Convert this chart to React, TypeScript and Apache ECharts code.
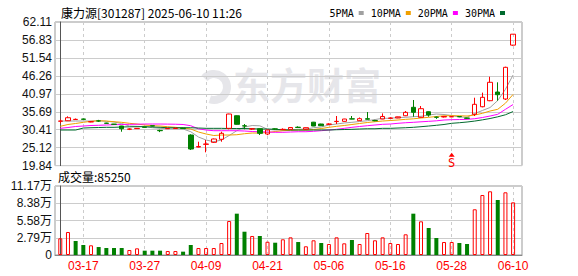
import { useEffect, useRef } from 'react';
import * as echarts from 'echarts';

const TITLE = '康力源[301287] 2025-06-10 11:26';

const DATES = [
  '03-12', '03-13', '03-14', '03-17', '03-18', '03-19', '03-20', '03-21', '03-24', '03-25',
  '03-26', '03-27', '03-28', '03-31', '04-01', '04-02', '04-03', '04-07', '04-08', '04-09',
  '04-10', '04-11', '04-14', '04-15', '04-16', '04-17', '04-18', '04-21', '04-22', '04-23',
  '04-24', '04-25', '04-28', '04-29', '04-30', '05-06', '05-07', '05-08', '05-09', '05-12',
  '05-13', '05-14', '05-15', '05-16', '05-19', '05-20', '05-21', '05-22', '05-23', '05-26',
  '05-27', '05-28', '05-29', '05-30', '06-03', '06-04', '06-05', '06-06', '06-09', '06-10',
];

const TICK_DATES = ['03-17', '03-27', '04-09', '04-21', '05-06', '05-16', '05-28', '06-10'];

const OPEN = [
  32.90, 33.04, 33.40, 33.56, 32.70, 33.00, 32.35, 32.05, 31.49, 30.55,
  30.72, 31.18, 31.55, 30.20, 30.70, 30.75, 30.85, 28.84, 25.30, 26.10,
  26.69, 27.58, 30.81, 34.52, 31.55, 30.60, 30.70, 29.14, 30.65, 30.45,
  30.52, 31.15, 30.55, 32.62, 32.08, 32.00, 32.80, 32.87, 33.60, 33.06,
  33.64, 33.10, 33.55, 33.76, 33.85, 34.52, 37.00, 34.05, 35.70, 34.10,
  34.15, 34.20, 34.28, 33.85, 34.94, 37.17, 38.94, 41.50, 39.44, 55.30,
];
const CLOSE = [
  32.96, 33.93, 33.46, 33.46, 32.76, 32.96, 32.28, 31.99, 30.70, 30.61,
  30.80, 31.11, 31.49, 30.11, 30.80, 30.85, 30.75, 24.72, 25.45, 26.19,
  27.67, 29.34, 35.02, 31.99, 31.49, 30.69, 29.34, 30.32, 30.61, 30.52,
  31.05, 31.05, 31.00, 31.49, 31.58, 32.08, 32.87, 33.55, 33.55, 33.65,
  33.50, 33.05, 34.30, 33.85, 34.20, 35.52, 35.52, 36.59, 34.73, 34.05,
  34.30, 34.25, 34.23, 33.76, 37.88, 39.94, 44.36, 40.71, 48.77, 58.52,
];
const LOW = [
  32.29, 32.96, 33.26, 33.40, 32.60, 32.70, 32.15, 31.90, 29.81, 30.30,
  30.65, 31.00, 31.40, 29.70, 30.60, 30.65, 30.65, 24.43, 25.20, 23.75,
  26.50, 26.87, 30.52, 31.90, 30.52, 30.31, 28.84, 28.80, 30.40, 30.30,
  30.45, 30.90, 30.30, 31.45, 31.50, 31.80, 32.08, 32.80, 33.50, 33.00,
  33.40, 32.90, 33.50, 33.70, 33.80, 34.40, 34.23, 34.00, 34.23, 33.60,
  34.00, 34.10, 34.10, 33.60, 34.44, 37.00, 38.80, 38.94, 39.15, 55.10,
];
const HIGH = [
  33.46, 34.35, 33.70, 33.64, 32.90, 33.30, 32.45, 32.10, 31.55, 30.80,
  30.90, 31.25, 31.60, 30.40, 30.90, 30.95, 30.95, 29.05, 26.87, 27.37,
  27.80, 29.81, 35.10, 34.60, 32.08, 30.80, 30.75, 30.40, 30.80, 30.80,
  31.11, 31.40, 31.05, 32.70, 32.15, 32.30, 34.44, 33.60, 34.44, 34.00,
  35.61, 33.30, 35.20, 34.05, 34.25, 35.91, 39.15, 37.38, 35.80, 34.30,
  34.35, 34.40, 34.35, 33.90, 39.82, 41.32, 46.00, 44.36, 48.95, 58.52,
];

const MA5 = [
  32.96, 32.96, 32.96, 32.96, 32.96, 33.05, 32.87, 32.67, 32.23, 31.49,
  31.40, 31.29, 30.99, 30.81, 30.69, 30.69, 30.61, 29.81, 28.25, 27.37,
  26.87, 27.37, 28.70, 30.11, 31.20, 31.64, 31.55, 30.52, 30.31, 30.31,
  30.40, 30.52, 30.61, 30.99, 31.20, 31.79, 32.08, 32.38, 32.58, 32.82,
  33.05, 33.40, 33.76, 33.76, 34.00, 34.05, 34.23, 34.35, 34.73, 35.02,
  34.88, 34.58, 34.14, 34.05, 35.17, 36.06, 36.94, 39.00, 42.30, 46.51,
];
const MA10 = [
  31.40, 31.94, 32.23, 32.58, 32.87, 33.05, 32.96, 32.76, 32.58, 32.29,
  32.08, 31.79, 31.58, 31.49, 31.29, 31.11, 30.90, 30.61, 29.73, 29.14,
  28.70, 28.84, 28.84, 28.93, 29.22, 29.43, 29.43, 29.58, 29.87, 30.11,
  30.22, 30.31, 30.31, 30.46, 30.75, 31.11, 31.40, 31.64, 31.94, 32.23,
  32.52, 32.76, 32.96, 33.11, 33.26, 33.46, 33.61, 33.85, 34.05, 34.29,
  34.50, 34.53, 34.50, 34.44, 34.73, 35.23, 35.91, 36.41, 38.20, 40.80,
];
const MA20 = [
  30.81, 31.05, 31.35, 31.49, 31.64, 31.70, 31.79, 31.88, 31.94, 31.99,
  32.02, 32.08, 32.08, 32.08, 32.05, 32.02, 31.94, 31.58, 30.66, 30.31,
  30.11, 30.11, 30.11, 30.11, 30.02, 29.87, 29.81, 29.73, 29.64, 29.64,
  29.73, 29.81, 29.81, 29.93, 30.11, 30.31, 30.52, 30.81, 31.11, 31.35,
  31.58, 31.79, 31.99, 32.08, 32.29, 32.46, 32.58, 32.73, 32.87, 33.02,
  33.26, 33.35, 33.40, 33.46, 33.64, 33.99, 34.44, 34.94, 36.40, 37.82,
];
const MA30 = [
  30.31, 30.31, 30.31, 30.90, 30.99, 31.05, 31.11, 31.11, 31.20, 31.26,
  31.29, 31.29, 31.20, 31.11, 30.99, 30.99, 30.99, 30.99, 30.90, 30.81,
  30.81, 30.81, 30.75, 30.75, 30.75, 30.69, 30.61, 30.61, 30.52, 30.40,
  30.31, 30.31, 30.31, 30.31, 30.31, 30.31, 30.40, 30.46, 30.52, 30.61,
  30.69, 30.69, 30.81, 30.81, 30.90, 30.99, 31.11, 31.29, 31.49, 31.70,
  31.94, 32.29, 32.46, 32.67, 32.95, 33.30, 33.70, 34.20, 34.80, 35.75,
];

const VOLUMES = [
  27000, 37200, 22700, 16200, 15700, 12900, 11300, 11300, 11300, 8100,
  10800, 7000, 7000, 7000, 6500, 6500, 5400, 16200, 11300, 11300,
  11300, 19400, 55000, 66900, 37700, 30800, 30800, 21500, 19900, 25400,
  28600, 21000, 14100, 23800, 19400, 17800, 28600, 18900, 24300, 17800,
  35600, 23800, 28600, 19400, 17800, 33500, 66900, 54500, 43700, 27500,
  21000, 21000, 19400, 17800, 74000, 97100, 103100, 89000, 101500, 85250,
];
// 1 = rising (hollow red), 0 = falling (solid green)
const VOL_UP = [
  1, 1, 0, 0, 1, 0, 0, 0, 0, 1,
  1, 0, 0, 0, 1, 1, 0, 0, 1, 1,
  1, 1, 1, 0, 0, 1, 0, 1, 0, 1,
  1, 0, 1, 1, 0, 1, 1, 1, 0, 1,
  1, 1, 1, 1, 1, 1, 0, 1, 0, 0,
  1, 1, 0, 0, 1, 1, 1, 0, 1, 1,
];

const PRICE_TICKS = ['19.84', '25.12', '30.41', '35.69', '40.97', '46.26', '51.54', '56.83', '62.11'];
const VOL_TICKS = [0, 27925, 55850, 83775, 111700];
const VOL_TICK_LABELS = ['0', '2.79万', '5.58万', '8.38万', '11.17万'];

const SIGNAL_DATE = '05-28';
const SIGNAL_PRICE = 23.0;

const MA_NAMES = ['5PMA', '10PMA', '20PMA', '30PMA'];
const MA_COLORS = ['#a0a0a0', '#f0a000', '#ff00ff', '#006a2e'];

const UP = '#ff0000';
const DOWN = '#008000';
const FONT = "'Liberation Sans', 'Noto Sans CJK SC', sans-serif";
const CJK = "'Noto Sans CJK SC', 'Liberation Sans', sans-serif";

export default function App() {
  const ref = useRef<HTMLDivElement>(null);

  useEffect(() => {
    if (!ref.current) return;
    const chart = echarts.init(ref.current, undefined, { renderer: 'svg' });
    const tickIdx = TICK_DATES.map((d) => DATES.indexOf(d));
    const priceVals = PRICE_TICKS.map(Number);
    const maData = [MA5, MA10, MA20, MA30];

    const xCommon = {
      type: 'value' as const,
      min: -0.69,
      max: 60.16,
      axisLine: { show: false },
      axisTick: { show: false, customValues: tickIdx },
      splitLine: { show: true, lineStyle: { color: '#cccccc', type: [3, 3] as any, width: 1 } },
    };

    const option: any = {
      animation: false,
      backgroundColor: '#ffffff',
      title: {
        text: TITLE,
        left: 56,
        top: 1,
        textStyle: { fontSize: 12, fontWeight: 'normal', color: '#000', fontFamily: CJK },
      },
      legend: {
        top: 3,
        right: 68,
        icon: 'rect',
        itemWidth: 5,
        itemHeight: 4,
        itemGap: 7,
        align: 'right',
        selectedMode: false,
        data: MA_NAMES,
        textStyle: { fontFamily: "'DejaVu Sans Mono', monospace", fontSize: 10, color: '#000' },
      },
      graphic: [
        {
          type: 'arc',
          z: -10,
          silent: true,
          shape: { cx: 214, cy: 87, r: 13, startAngle: -2.4, endAngle: 1.9 },
          style: { stroke: '#e6e6ea', lineWidth: 8, fill: null },
        },
        {
          type: 'text',
          z: -10,
          silent: true,
          left: 233,
          top: 65,
          style: {
            text: '东方财富',
            fontSize: 37,
            fontWeight: 'bold',
            fill: '#e6e6ea',
            fontFamily: CJK,
          },
        },
        {
          type: 'text',
          left: 58,
          top: 170,
          style: {
            text: `成交量:${VOLUMES[VOLUMES.length - 1]}`,
            fontSize: 12,
            fill: '#000',
            fontFamily: CJK,
          },
        },
      ],
      grid: [
        { left: 55, top: 22, width: 467, height: 143.6, show: true, borderColor: '#999', borderWidth: 1 },
        { left: 55, top: 186, width: 467, height: 69, show: true, borderColor: '#999', borderWidth: 1 },
      ],
      xAxis: [
        { ...xCommon, gridIndex: 0, axisLabel: { show: false, customValues: tickIdx } },
        {
          ...xCommon,
          gridIndex: 1,
          axisLine: { show: true, onZero: false, lineStyle: { color: '#888' } },
          axisLabel: {
            show: true,
            customValues: tickIdx,
            formatter: (v: number) => DATES[Math.round(v)],
            color: '#ff0000',
            fontSize: 12,
            margin: 5,
            fontFamily: FONT,
          },
        },
      ],
      yAxis: [
        {
          type: 'value',
          gridIndex: 0,
          min: priceVals[0],
          max: priceVals[priceVals.length - 1],
          axisLine: { show: true, lineStyle: { color: '#555' } },
          axisTick: { show: false, customValues: priceVals },
          axisLabel: {
            customValues: priceVals,
            formatter: (v: number) => v.toFixed(2),
            color: '#111',
            fontSize: 12,
            margin: 3,
            fontFamily: FONT,
          },
          splitLine: { show: true, lineStyle: { color: '#cccccc', width: 1 } },
        },
        {
          type: 'value',
          gridIndex: 1,
          min: VOL_TICKS[0],
          max: VOL_TICKS[VOL_TICKS.length - 1],
          axisLine: { show: true, lineStyle: { color: '#555' } },
          axisTick: { show: false, customValues: VOL_TICKS },
          axisLabel: {
            customValues: VOL_TICKS,
            formatter: (v: number) => VOL_TICK_LABELS[VOL_TICKS.indexOf(v)] ?? '',
            color: '#111',
            fontSize: 12,
            margin: 3,
            fontFamily: FONT,
          },
          splitLine: { show: true, lineStyle: { color: '#cccccc', width: 1 } },
        },
      ],
      series: [
        ...MA_NAMES.map((name, k) => ({
          name,
          type: 'line',
          xAxisIndex: 0,
          yAxisIndex: 0,
          data: maData[k].map((v, i) => [i, v]),
          showSymbol: false,
          symbol: 'none',
          color: MA_COLORS[k],
          lineStyle: { color: MA_COLORS[k], width: 1 },
          z: 2,
        })),
        {
          name: 'K',
          type: 'candlestick',
          xAxisIndex: 0,
          yAxisIndex: 0,
          barWidth: 5,
          data: OPEN.map((o, i) => [i, o, CLOSE[i], LOW[i], HIGH[i]]),
          itemStyle: {
            color: 'transparent',
            color0: DOWN,
            borderColor: UP,
            borderColor0: DOWN,
            borderWidth: 1,
          },
          z: 3,
          markPoint: {
            symbol: 'triangle',
            symbolSize: [6, 4],
            data: [
              {
                coord: [DATES.indexOf(SIGNAL_DATE), SIGNAL_PRICE],
                itemStyle: { color: UP },
                label: {
                  show: true,
                  formatter: 'S',
                  position: 'bottom',
                  distance: 0,
                  color: UP,
                  fontSize: 12,
                  fontFamily: "'DejaVu Sans Mono', monospace",
                },
              },
            ],
          },
        },
        {
          name: 'VOL',
          type: 'bar',
          xAxisIndex: 1,
          yAxisIndex: 1,
          barWidth: 4,
          data: VOLUMES.map((v, i) => ({
            value: [i, v],
            itemStyle: VOL_UP[i]
              ? { color: 'transparent', borderColor: UP, borderWidth: 1 }
              : { color: DOWN, borderColor: DOWN, borderWidth: 0 },
          })),
        },
      ],
    };

    chart.setOption(option);
    return () => chart.dispose();
  }, []);

  return (
    <div
      ref={ref}
      style={{ position: 'fixed', left: 0, top: 0, width: 578, height: 276, background: '#fff' }}
    />
  );
}
